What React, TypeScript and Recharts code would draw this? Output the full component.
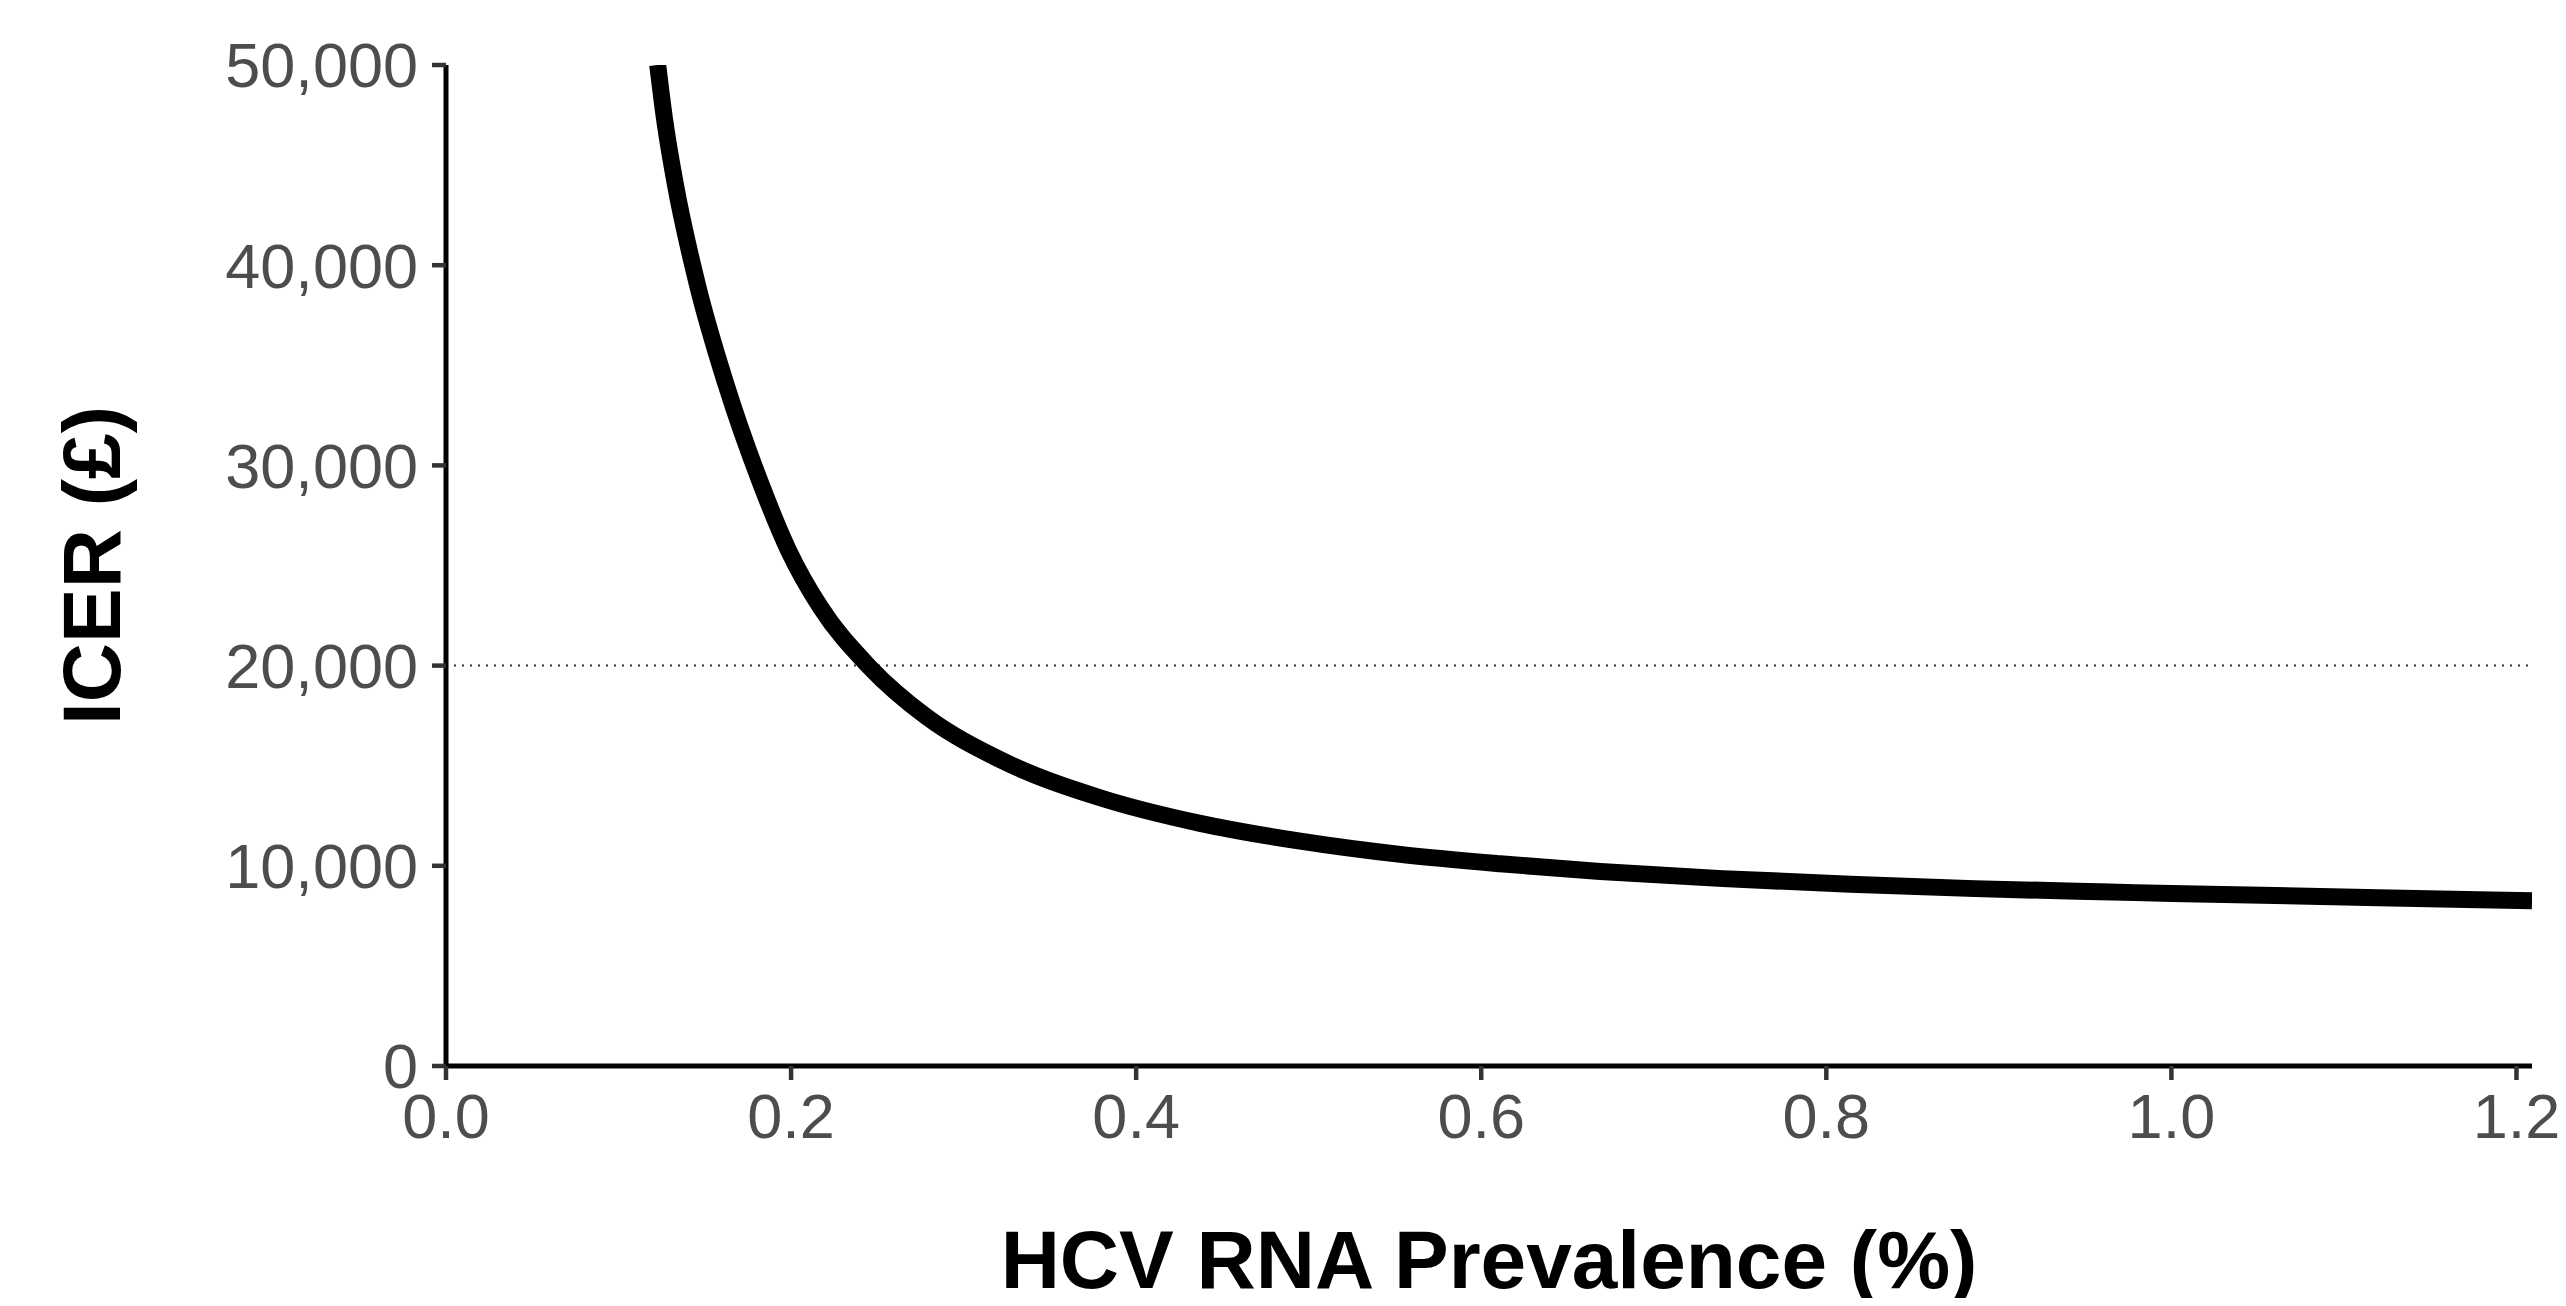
import React from 'react'
import { LineChart, Line, XAxis, YAxis, ReferenceLine, Label } from 'recharts'

// HCV RNA prevalence (%) and the matching ICER (£)
const prevalence = [
    0.1227, 0.1265, 0.1328, 0.1455, 0.1621, 0.1824, 0.1985, 0.2169, 0.245, 0.2787,
    0.3212, 0.3791, 0.4371, 0.4951, 0.553, 0.611, 0.669, 0.74, 0.8139, 0.886,
    0.9588, 1.0, 1.03, 1.12, 1.209,
]
const icer = [
    50000, 47400, 44100, 39100, 34100, 29100, 25760, 22930, 19970, 17430,
    15300, 13400, 12120, 11230, 10570, 10100, 9720, 9360, 9080, 8860,
    8700, 8620, 8565, 8405, 8250,
]

const xTicks = [0, 0.2, 0.4, 0.6, 0.8, 1.0, 1.2]
const yTicks = [0, 10000, 20000, 30000, 40000, 50000]
const threshold = 20000

const font = '"Liberation Sans", Arial, sans-serif'

const data = prevalence.map((p, i) => ({ p, icer: icer[i] }))

const App = () => {
    return (
        <LineChart
            width={2550}
            height={1290}
            data={data}
            margin={{ top: 57, right: 26, bottom: 8, left: 0 }}
            style={{ fontFamily: font }}
        >
            <XAxis
                dataKey="p"
                type="number"
                domain={[0, 1.209]}
                allowDataOverflow
                ticks={xTicks}
                interval={0}
                tickFormatter={(v: number) => v.toFixed(1)}
                height={224}
                tickSize={14}
                tickMargin={13}
                axisLine={{ stroke: '#000', strokeWidth: 5 }}
                tickLine={{ stroke: '#333', strokeWidth: 4.5 }}
                tick={{ fill: '#4d4d4d', fontSize: 63, fontFamily: font }}
            >
                <Label
                    value="HCV RNA Prevalence (%)"
                    position="insideBottom"
                    offset={2}
                    style={{ fontSize: 82, fontWeight: 'bold', fill: '#000', fontFamily: font }}
                />
            </XAxis>
            <YAxis
                type="number"
                domain={[0, 50000]}
                allowDataOverflow
                ticks={yTicks}
                interval={0}
                tickFormatter={(v: number) => v.toLocaleString('en-US')}
                width={438}
                tickSize={14}
                tickMargin={14}
                axisLine={{ stroke: '#000', strokeWidth: 5 }}
                tickLine={{ stroke: '#333', strokeWidth: 4.5 }}
                tick={{ fill: '#4d4d4d', fontSize: 63, fontFamily: font }}
            >
                <Label
                    value="ICER (£)"
                    angle={-90}
                    position="insideLeft"
                    offset={83}
                    style={{ fontSize: 82, fontWeight: 'bold', fill: '#000', fontFamily: font, textAnchor: 'middle' }}
                />
            </YAxis>
            <ReferenceLine y={threshold} stroke="#333" strokeWidth={2} strokeDasharray="2 6" />
            <Line
                type="monotone"
                dataKey="icer"
                stroke="#000"
                strokeWidth={17}
                dot={false}
                isAnimationActive={false}
            />
        </LineChart>
    )
}

export default App
